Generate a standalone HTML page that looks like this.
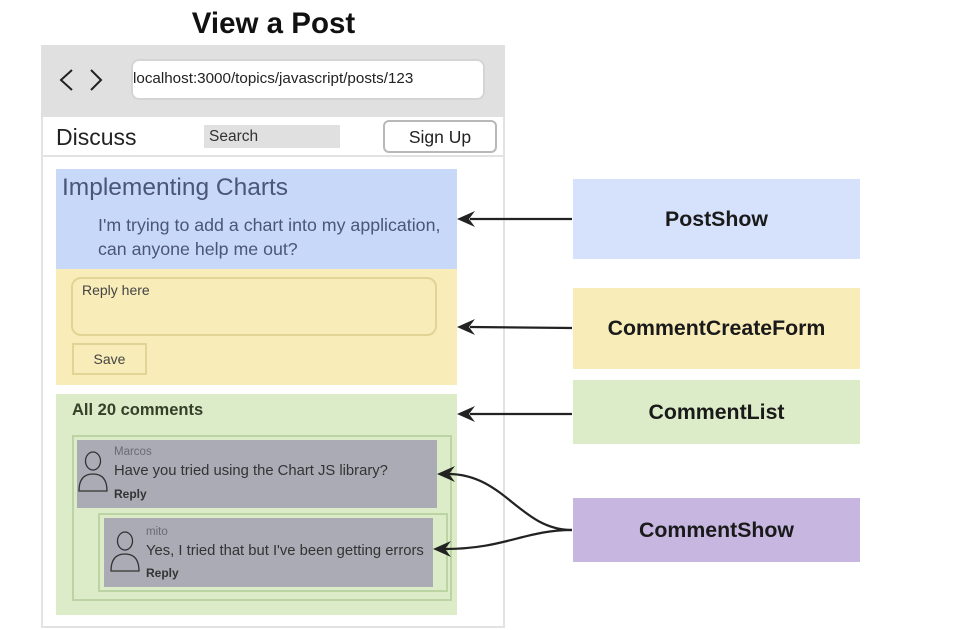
<!DOCTYPE html>
<html><head><meta charset="utf-8"><style>
body{margin:0;width:957px;height:630px;background:#fff;position:relative;overflow:hidden;font-family:"Liberation Sans","DejaVu Sans",sans-serif}
div,span{position:absolute;box-sizing:border-box}
.t{white-space:nowrap}
.lbl{display:flex;align-items:center;justify-content:center;font-weight:bold;font-size:21.3px;color:#1a1a1a}
</style></head><body>
<div class="t" style="left:0;width:547px;top:7px;text-align:center;font-size:29.5px;font-weight:bold;color:#111">View a Post</div>
<div style="left:41px;top:45px;width:464px;height:583px;border:2px solid #e2e2e2"></div>
<div style="left:41px;top:45px;width:464px;height:72px;background:#e0e0e0"></div>
<div style="left:131px;top:59px;width:354px;height:41px;background:#fff;border:2px solid #d4d4d4;border-radius:8px"></div>
<div class="t" style="left:133px;top:70px;font-size:15.2px;color:#222">localhost:3000/topics/javascript/posts/123</div>
<svg style="position:absolute;left:0;top:0" width="957" height="630">
<polyline points="72,70 61,80 72,90" fill="none" stroke="#222" stroke-width="2"/>
<polyline points="91,70 101,80 91,90" fill="none" stroke="#222" stroke-width="2"/>
</svg>
<div style="left:43px;top:155px;width:460px;height:2px;background:#e2e2e2"></div>
<div class="t" style="left:56px;top:124px;font-size:23px;color:#222">Discuss</div>
<div style="left:204px;top:125px;width:136px;height:23px;background:#e0e0e0"></div>
<div class="t" style="left:209px;top:128px;font-size:15.5px;color:#333">Search</div>
<div style="left:383px;top:120px;width:114px;height:33px;border:2px solid #b8b8b8;border-radius:6px;background:#fff"></div>
<div class="t" style="left:383px;width:114px;top:127px;text-align:center;font-size:17.5px;color:#222">Sign Up</div>

<div style="left:56px;top:169px;width:401px;height:100px;background:#c8d8f8"></div>
<div class="t" style="left:62px;top:174px;font-size:24.5px;color:#4a5677">Implementing Charts</div>
<div class="t" style="left:98px;top:213px;font-size:17.8px;color:#4a5677;line-height:24px">I'm trying to add a chart into my application,<br>can anyone help me out?</div>

<div style="left:56px;top:269px;width:401px;height:116px;background:#f8ecb8"></div>
<div style="left:71px;top:277px;width:366px;height:59px;border:2px solid #e2d494;border-radius:10px"></div>
<div class="t" style="left:82px;top:282px;font-size:14px;color:#444">Reply here</div>
<div style="left:72px;top:343px;width:75px;height:32px;border:2px solid #e2d494"></div>
<div class="t" style="left:72px;width:75px;top:351px;text-align:center;font-size:14px;color:#444">Save</div>

<div style="left:56px;top:394px;width:401px;height:221px;background:#dcecc8"></div>
<div class="t" style="left:72px;top:401px;font-size:16.5px;font-weight:bold;color:#344028">All 20 comments</div>
<div style="left:72px;top:435px;width:380px;height:166px;border:2px solid #bcd4a4"></div>
<div style="left:77px;top:440px;width:360px;height:68px;background:#ababb5"></div>
<div style="left:98px;top:513px;width:350px;height:79px;border:2px solid #bcd4a4"></div>
<div style="left:104px;top:518px;width:329px;height:69px;background:#ababb5"></div>
<svg style="position:absolute;left:0;top:0" width="957" height="630">
<g fill="none" stroke="#333" stroke-width="1.3">
<ellipse cx="93" cy="461" rx="7.5" ry="9"/>
<path d="M79,491 Q79,474 93,474 Q107,474 107,491 Z"/>
<ellipse cx="125" cy="541" rx="7.5" ry="9"/>
<path d="M111,571 Q111,554 125,554 Q139,554 139,571 Z"/>
</g>
<g stroke="#222" stroke-width="2.2" fill="none">
<line x1="572" y1="219" x2="470" y2="219"/>
<path d="M457,219 L475,211 L469,219 L475,227 Z" fill="#222" stroke="none"/>
<line x1="572" y1="328" x2="470" y2="327"/>
<path d="M457,327 L475,319 L469,327 L475,335 Z" fill="#222" stroke="none"/>
<line x1="572" y1="414" x2="470" y2="414"/>
<path d="M457,414 L475,406 L469,414 L475,422 Z" fill="#222" stroke="none"/>
<path d="M572,530 C520,530 505,474 448,474"/>
<path d="M437,474 L455,466 L449,474 L455,482 Z" fill="#222" stroke="none"/>
<path d="M572,530 C525,530 505,549 444,549"/>
<path d="M433,549 L451,541 L445,549 L451,557 Z" fill="#222" stroke="none"/>
</g>
</svg>
<div class="t" style="left:114px;top:446px;font-size:11.5px;color:#6a6a72">Marcos</div>
<div class="t" style="left:114px;top:463px;font-size:14.8px;color:#333">Have you tried using the Chart JS library?</div>
<div class="t" style="left:114px;top:487px;font-size:12px;font-weight:bold;color:#333">Reply</div>
<div class="t" style="left:146px;top:526px;font-size:11.5px;color:#6a6a72">mito</div>
<div class="t" style="left:146px;top:543px;font-size:14.8px;color:#333">Yes, I tried that but I've been getting errors</div>
<div class="t" style="left:146px;top:566px;font-size:12px;font-weight:bold;color:#333">Reply</div>

<div class="lbl" style="left:573px;top:179px;width:287px;height:80px;background:#d6e2fc">PostShow</div>
<div class="lbl" style="left:573px;top:288px;width:287px;height:81px;background:#f8ecb8">CommentCreateForm</div>
<div class="lbl" style="left:573px;top:380px;width:287px;height:64px;background:#dcecc8">CommentList</div>
<div class="lbl" style="left:573px;top:498px;width:287px;height:64px;background:#c6b6e0">CommentShow</div>
</body></html>
